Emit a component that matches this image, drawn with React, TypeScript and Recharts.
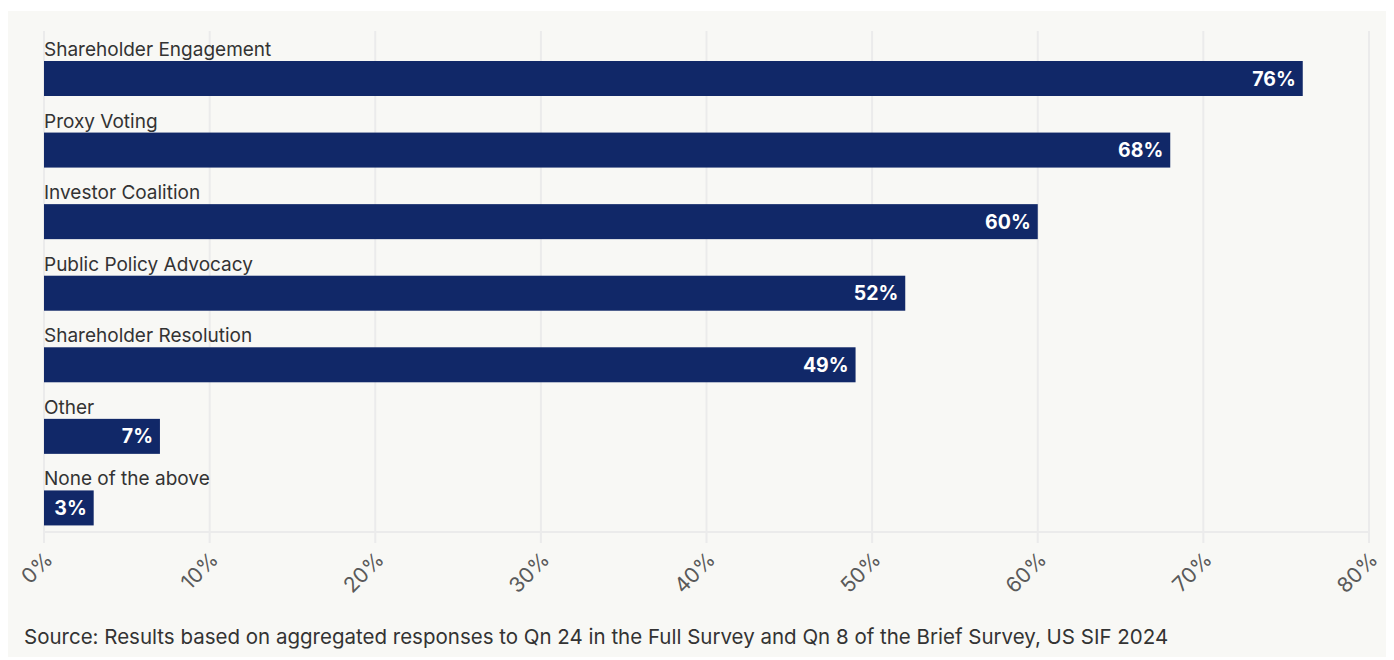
import React from "react";
import { BarChart, Bar, XAxis, YAxis, CartesianGrid, LabelList } from "recharts";

const categories = [
  "Shareholder Engagement",
  "Proxy Voting",
  "Investor Coalition",
  "Public Policy Advocacy",
  "Shareholder Resolution",
  "Other",
  "None of the above",
];
const shares = [76, 68, 60, 52, 49, 7, 3];
const ticks = [0, 10, 20, 30, 40, 50, 60, 70, 80];

const data = categories.map((name, i) => ({ name, value: shares[i] }));

const NAVY = "#112868";
const SHIFT = 12;
const FONT = "Inter, 'Open Sans', sans-serif";

const BarShape = (props: any) => {
  const { x, y, width, height, payload } = props;
  return (
    <g>
      <text x={x} y={y + SHIFT - 5} fontSize={19} fill="#333" fontFamily={FONT}>
        {payload.name}
      </text>
      <rect x={x} y={y + SHIFT} width={width} height={height} fill={NAVY} />
    </g>
  );
};

const ValueLabel = (props: any) => {
  const { x, y, width, height, value } = props;
  return (
    <text
      x={x + width - 7}
      y={y + SHIFT + height / 2 + 7}
      textAnchor="end"
      fontSize={19.5}
      fontWeight={700}
      fill="#fff"
      fontFamily={FONT}
    >
      {value}%
    </text>
  );
};

const Tick = (props: any) => {
  const { x, y, payload } = props;
  const ax = x + 10;
  const ay = y + 16;
  return (
    <text
      x={ax}
      y={ay}
      textAnchor="end"
      fontSize={21}
      fill="#5a5a5a"
      fontFamily={FONT}
      transform={`rotate(-45, ${ax}, ${ay})`}
    >
      {payload.value}%
    </text>
  );
};

export default function App() {
  return (
    <div
      style={{
        position: "relative",
        top: 3,
        width: 1380,
        height: 649,
        background: "#f8f8f5",
      }}
    >
      <BarChart
        width={1380}
        height={600}
        layout="vertical"
        data={data}
        margin={{ top: 20, right: 19, left: 36, bottom: 0 }}
        barSize={35}
      >
        <CartesianGrid horizontal={false} stroke="#ebebeb" strokeWidth={2} />
        <XAxis
          type="number"
          domain={[0, 80]}
          ticks={ticks}
          height={79}
          axisLine={{ stroke: "#ebebeb", strokeWidth: 2 }}
          tickLine={{ stroke: "#ebebeb", strokeWidth: 2 }}
          tickSize={11}
          tick={<Tick />}
          interval={0}
        />
        <YAxis type="category" dataKey="name" hide />
        <Bar dataKey="value" shape={<BarShape />} isAnimationActive={false}>
          <LabelList dataKey="value" content={<ValueLabel />} />
        </Bar>
      </BarChart>
      <div
        style={{
          position: "absolute",
          left: 16,
          top: 614,
          fontSize: 20.5,
          lineHeight: "24px",
          color: "#333",
          fontFamily: FONT,
        }}
      >
        Source: Results based on aggregated responses to Qn 24 in the Full Survey and Qn 8 of the Brief Survey, US SIF 2024
      </div>
    </div>
  );
}
